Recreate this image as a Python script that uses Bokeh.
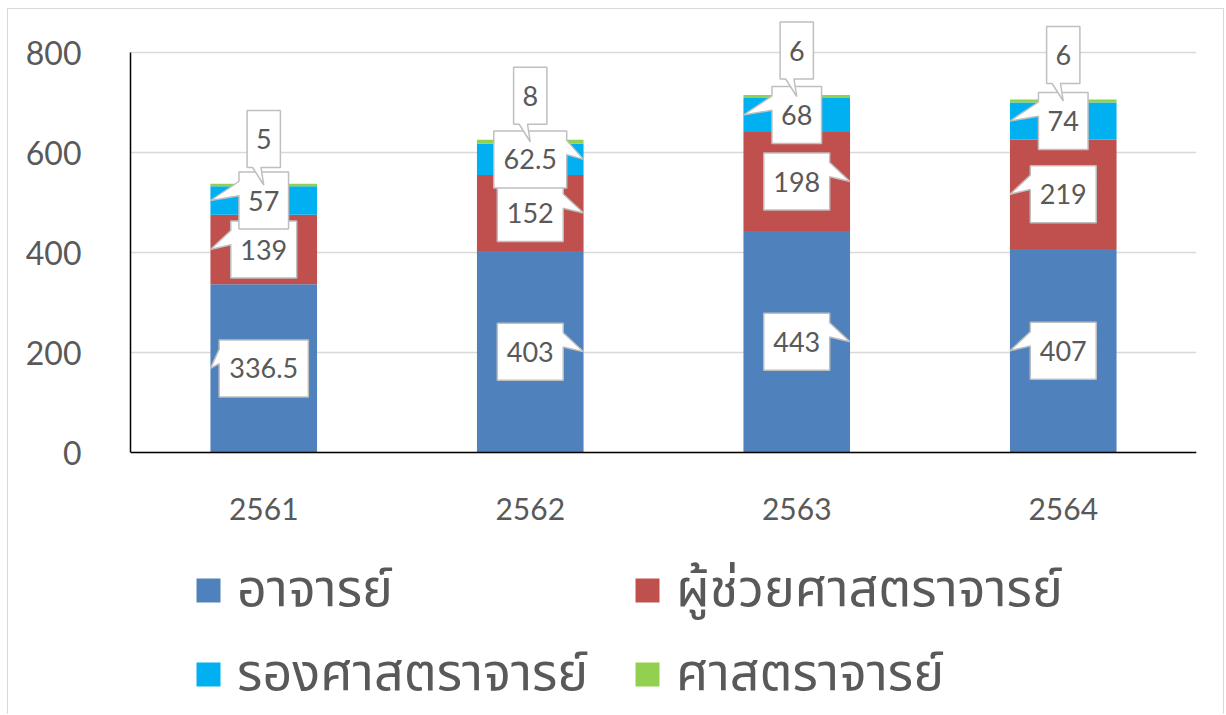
from bokeh.plotting import figure
from bokeh.models import FactorRange, Range1d, FixedTicker, ColumnDataSource, Legend, LegendItem, CategoricalAxis
from bokeh.core.properties import value
from bokeh.embed import file_html
from bokeh.resources import INLINE

# ---------------- data ----------------
years = ["2561", "2562", "2563", "2564"]
series_names = ["อาจารย์", "ผู้ช่วยศาสตราจารย์", "รองศาสตราจารย์", "ศาสตราจารย์"]
lecturer = [336.5, 403, 443, 407]
assistant_prof = [139, 152, 198, 219]
associate_prof = [57, 62.5, 68, 74]
professor = [5, 8, 6, 6]
y_ticks = [0, 200, 400, 600, 800]

# ---------------- style ----------------
colors = ["#4F81BD", "#C0504D", "#00B0F0", "#92D050"]
callout_side = [["L", "L", "L", "D"],
                ["R", "R", "R", "D"],
                ["R", "R", "L", "D"],
                ["L", "L", "L", "D"]]
TEXT = "#595959"
FONT = "Lato"
THAI_FONT = "Noto Sans Thai, Noto Sans Thai UI, Loma, Garuda, Noto Sans"

W, H = 1217, 706
ML, MR, MT, MB = 122, 29, 11, 0
FW = W - ML - MR
AXIS_MAX = 800
PX_PER_UNIT_Y = 400 / AXIS_MAX        # 0..800 spans 400 px
UNIT_Y_PER_PX = 1 / PX_PER_UNIT_Y
ZERO_FROM_TOP = 432                    # px from frame top to y = 0
Y_END = ZERO_FROM_TOP * UNIT_Y_PER_PX
Y_START = -(H - MT - ZERO_FROM_TOP) * UNIT_Y_PER_PX
UNIT_X_PER_PX = len(years) / FW
BAR_W = 0.4
BOX_H = 57
TOP_OFFSET = 46

stacks = [lecturer, assistant_prof, associate_prof, professor]
keys = ["s0", "s1", "s2", "s3"]
src = ColumnDataSource(dict(year=years, s0=lecturer, s1=assistant_prof, s2=associate_prof, s3=professor))

p = figure(x_range=FactorRange(*years), y_range=Range1d(Y_START, Y_END),
           width=W, height=H, output_backend="svg", toolbar_location=None,
           min_border_left=ML, min_border_right=MR, min_border_top=MT, min_border_bottom=MB,
           x_axis_location=None)
p.styles = {"margin-left": "7px", "margin-top": "8px",
            "border-top": "1px solid #D9D9D9", "border-left": "1px solid #D9D9D9",
            "border-right": "1px solid #D9D9D9"}
p.outline_line_color = None
p.background_fill_color = "white"
p.border_fill_color = "white"

renderers = p.vbar_stack(keys, x="year", width=BAR_W, color=colors, line_color=None, source=src)

# callouts
xs_list, ys_list, tx, ty, texts = [], [], [], [], []
for i, yr in enumerate(years):
    base = 0.0
    xc = i + 0.5
    for k, vals in enumerate(stacks):
        v = vals[i]
        mid = base + v / 2
        base += v
        txt = f"{v:g}"
        nd = sum(c.isdigit() for c in txt)
        ndot = txt.count(".")
        wpx = 17 + 16.3 * nd + 7 * ndot
        side = callout_side[i][k]
        hw = wpx / 2 * UNIT_X_PER_PX
        hh = BOX_H / 2 * UNIT_Y_PER_PX
        cy = mid + TOP_OFFSET * UNIT_Y_PER_PX if side == "D" else mid
        cx = xc
        L, R, T, B = cx - hw, cx + hw, cy + hh, cy - hh
        ya = T - BOX_H * UNIT_Y_PER_PX * 2 / 12
        yb = T - BOX_H * UNIT_Y_PER_PX * 5 / 12
        if side == "L":
            tip = (xc - BAR_W / 2, mid)
            poly = [(L, T), (R, T), (R, B), (L, B), (L, yb), tip, (L, ya)]
        elif side == "R":
            tip = (xc + BAR_W / 2, mid)
            poly = [(L, T), (R, T), (R, ya), tip, (R, yb), (R, B), (L, B)]
        else:
            tip = (xc, mid)
            xa = L + 2 * hw * 2 / 12
            xb = L + 2 * hw * 5 / 12
            poly = [(L, T), (R, T), (R, B), (xb, B), tip, (xa, B), (L, B)]
        xs_list.append([pt[0] for pt in poly])
        ys_list.append([pt[1] for pt in poly])
        tx.append(cx)
        ty.append(cy)
        texts.append(txt)

p.patches(xs_list, ys_list, fill_color="white", line_color="#BFBFBF", line_width=1.5)
p.text(x=tx, y=ty, text=texts, text_align="center", text_baseline="middle",
       text_font=value(FONT), text_font_size="27px", text_color=TEXT)

# axes
xaxis = CategoricalAxis(fixed_location=0)
p.add_layout(xaxis, "below")
p.yaxis.ticker = FixedTicker(ticks=y_ticks)
p.yaxis.bounds = (0, AXIS_MAX)
p.ygrid.ticker = FixedTicker(ticks=y_ticks)
p.ygrid.bounds = (0, AXIS_MAX)
p.ygrid.grid_line_color = "#D9D9D9"
p.ygrid.grid_line_width = 1.5
p.xgrid.visible = False
for ax in (xaxis, p.yaxis[0]):
    ax.axis_line_color = "black"
    ax.axis_line_width = 1.5
    ax.major_tick_line_color = None
    ax.minor_tick_line_color = None
    ax.major_label_text_font = FONT
    ax.major_label_text_color = TEXT
p.yaxis.major_label_text_font_size = "32px"
p.yaxis.major_label_standoff = 43
xaxis.major_label_text_font_size = "30px"
xaxis.major_label_standoff = 39

LEG_SPACING = 6
legend = Legend(items=[LegendItem(label=n, renderers=[r]) for n, r in zip(series_names, renderers)],
                ncols=2, orientation="horizontal", location=(63, 2),
                glyph_width=30, glyph_height=30, label_standoff=14, spacing=LEG_SPACING,
                label_width=395 - LEG_SPACING,
                label_text_font=THAI_FONT, label_text_font_size="52px", label_text_color=TEXT,
                padding=0, margin=0, border_line_color=None, background_fill_alpha=0)
p.add_layout(legend)

open("out.html", "w").write(file_html(p, INLINE))
